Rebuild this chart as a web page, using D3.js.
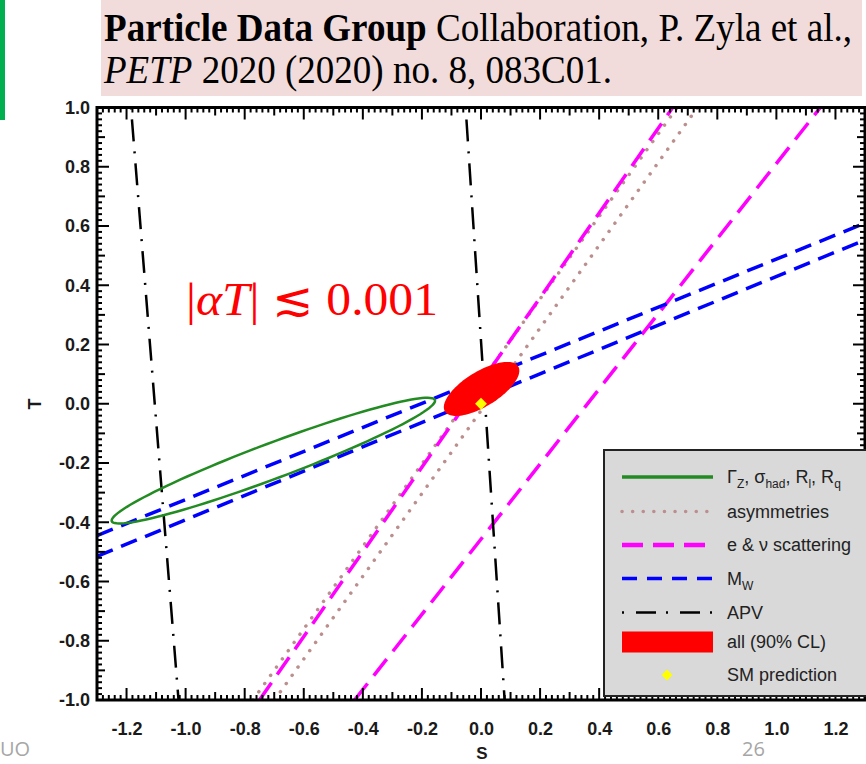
<!DOCTYPE html>
<html>
<head>
<meta charset="utf-8">
<script src="https://cdn.jsdelivr.net/npm/d3@7"></script>
<style>
  body { margin: 0; background: #fff; }
  svg { display: block; }
</style>
</head>
<body>
<svg id="chart" width="866" height="764"></svg>
<script>
// S-T oblique parameter constraints (PDG 2020 slide)

const xTicks = [-1.2, -1.0, -0.8, -0.6, -0.4, -0.2, 0.0, 0.2, 0.4, 0.6, 0.8, 1.0, 1.2];
const yTicks = [-1.0, -0.8, -0.6, -0.4, -0.2, 0.0, 0.2, 0.4, 0.6, 0.8, 1.0];

// each band edge is a straight line given by two [S, T] ends
const apvLines = [
    [[-1.185, 1.0], [-1.024, -1.0]],
    [[-0.052, 1.0], [0.080, -1.0]]
];
const scatteringLines = [
    [[-0.750, -1.0], [0.649, 1.0]],
    [[-0.428, -1.0], [1.149, 1.0]]
];
const asymmetryLines = [
    [[-0.772, -1.0], [0.664, 1.0]],
    [[-0.699, -1.0], [0.733, 1.0]]
];
const mwLines = [
    [[-1.3, -0.445], [1.3, 0.610]],
    [[-1.3, -0.515], [1.3, 0.553]]
];

// ellipses: [centre S, centre T, semi-major, semi-minor, tilt in degrees]
const zEllipse = [-0.703, -0.192, 0.584, 0.060, 20.5];
const allEllipse = [0.002, 0.050, 0.1455, 0.059, 31.5];
const smPoint = [0.0, 0.0];

// "_x" marks a subscript
const legendNames = [
    ["Γ", "_Z", ", σ", "_had", ", R", "_l", ", R", "_q"],
    ["asymmetries"],
    ["e & ν scattering"],
    ["M", "_W"],
    ["APV"],
    ["all (90% CL)"],
    ["SM prediction"]
];

const colors = {
    z: "#228b22",
    asym: "#bc8f8f",
    scat: "#ff00ff",
    mw: "#0000ff",
    apv: "#000",
    all: "#ff0000",
    sm: "#ffff00"
};
const dashes = {
    asym: "0.1,10",
    scat: "21,10",
    mw: "17,9",
    apv: "2,10,22,10"
};

const svg = d3.select("#chart");

const x = d3.scaleLinear().domain([-1.3, 1.3]).range([97, 865]);
const y = d3.scaleLinear().domain([-1.0, 1.0]).range([700, 107.5]);

// citation box
svg.append("rect").attr("x", 0).attr("y", 0).attr("width", 5).attr("height", 120).attr("fill", "#00b050");
svg.append("rect").attr("x", 101).attr("y", 0).attr("width", 761).attr("height", 96).attr("fill", "#f2dcdb");

// slide text is slightly condensed, so stretch it vertically
let cite1 = svg.append("text").attr("transform", "translate(104,41) scale(1,1.12)")
    .attr("font-family", "Liberation Serif").attr("font-size", 35).attr("fill", "#000")
    .attr("textLength", 748).attr("lengthAdjust", "spacingAndGlyphs");
cite1.append("tspan").attr("font-weight", "bold").text("Particle Data Group");
cite1.append("tspan").text(" Collaboration, P. Zyla et al.,");

let cite2 = svg.append("text").attr("transform", "translate(104,83) scale(1,1.12)")
    .attr("font-family", "Liberation Serif").attr("font-size", 35).attr("fill", "#000")
    .attr("textLength", 508).attr("lengthAdjust", "spacingAndGlyphs");
cite2.append("tspan").attr("font-style", "italic").text("PETP");
cite2.append("tspan").text(" 2020 (2020) no. 8, 083C01.");

// plot area
svg.append("clipPath").attr("id", "plotclip")
    .append("rect").attr("x", x(-1.3)).attr("y", y(1)).attr("width", x(1.3) - x(-1.3)).attr("height", y(-1) - y(1));

const plot = svg.append("g").attr("clip-path", "url(#plotclip)");

const line = d3.line().x(d => x(d[0])).y(d => y(d[1]));

function ellipsePoints(e) {
    const [cs, ct, a, b, deg] = e;
    const th = deg * Math.PI / 180;
    return d3.range(0, 361, 3).map(k => {
        const t = k * Math.PI / 180;
        const u = a * Math.cos(t), v = b * Math.sin(t);
        return [cs + u * Math.cos(th) - v * Math.sin(th), ct + u * Math.sin(th) + v * Math.cos(th)];
    });
}

function drawLines(lines, color, dash, width, cap) {
    lines.forEach(l => {
        plot.append("path")
            .attr("d", line(l))
            .attr("fill", "none")
            .attr("stroke", color)
            .attr("stroke-width", width)
            .attr("stroke-dasharray", dash)
            .attr("stroke-linecap", cap || "butt");
    });
}

drawLines(asymmetryLines, colors.asym, dashes.asym, 3.5, "round");
drawLines(scatteringLines, colors.scat, dashes.scat, 3.5);
drawLines(mwLines, colors.mw, dashes.mw, 3.5);
drawLines(apvLines, colors.apv, dashes.apv, 2.5);

plot.append("path")
    .attr("d", line(ellipsePoints(zEllipse)))
    .attr("fill", "none")
    .attr("stroke", colors.z)
    .attr("stroke-width", 2.5);

plot.append("path")
    .attr("d", line(ellipsePoints(allEllipse)))
    .attr("fill", colors.all)
    .attr("stroke", "none");

plot.append("path")
    .attr("d", d3.symbol().type(d3.symbolDiamond2).size(90)())
    .attr("transform", `translate(${x(smPoint[0])},${y(smPoint[1])})`)
    .attr("fill", colors.sm);

// ticks on all four sides, pointing inward
const xMinor = d3.range(-65, 66).map(i => i * 0.02);
const yMinor = d3.range(-50, 51).map(i => i * 0.02);
function tickLen(v) {
    const i = Math.round(v * 50);
    if (i % 10 === 0) return 12;
    if (i % 5 === 0) return 8;
    return 5;
}

const tickG = svg.append("g").attr("stroke", "#000").attr("stroke-width", 2);
xMinor.forEach(v => {
    tickG.append("line").attr("x1", x(v)).attr("x2", x(v)).attr("y1", y(-1)).attr("y2", y(-1) - tickLen(v));
    tickG.append("line").attr("x1", x(v)).attr("x2", x(v)).attr("y1", y(1)).attr("y2", y(1) + tickLen(v));
});
yMinor.forEach(v => {
    tickG.append("line").attr("y1", y(v)).attr("y2", y(v)).attr("x1", x(-1.3)).attr("x2", x(-1.3) + tickLen(v));
    tickG.append("line").attr("y1", y(v)).attr("y2", y(v)).attr("x1", x(1.3)).attr("x2", x(1.3) - tickLen(v));
});

svg.append("rect")
    .attr("x", x(-1.3)).attr("y", y(1))
    .attr("width", x(1.3) - x(-1.3)).attr("height", y(-1) - y(1))
    .attr("fill", "none").attr("stroke", "#000").attr("stroke-width", 3);

// tick labels
const fmt = d => d3.format(".1f")(d).replace("−", "-");

svg.append("g")
    .attr("transform", `translate(0,${y(-1)})`)
    .call(d3.axisBottom(x).tickValues(xTicks).tickSize(0).tickPadding(22).tickFormat(fmt))
    .call(g => g.select(".domain").remove())
    .selectAll("text")
    .attr("font-family", "Liberation Sans").attr("font-weight", "bold").attr("font-size", 18).attr("fill", "#1a1a1a");

svg.append("g")
    .attr("transform", `translate(${x(-1.3)},0)`)
    .call(d3.axisLeft(y).tickValues(yTicks).tickSize(0).tickPadding(7).tickFormat(fmt))
    .call(g => g.select(".domain").remove())
    .selectAll("text")
    .attr("font-family", "Liberation Sans").attr("font-weight", "bold").attr("font-size", 18).attr("fill", "#1a1a1a");

// axis titles
svg.append("text").attr("x", 482).attr("y", 759).attr("text-anchor", "middle")
    .attr("font-family", "Liberation Sans").attr("font-weight", "bold").attr("font-size", 17).attr("fill", "#1a1a1a")
    .text("S");
svg.append("text").attr("transform", "translate(41,404) rotate(-90)").attr("text-anchor", "middle")
    .attr("font-family", "Liberation Sans").attr("font-weight", "bold").attr("font-size", 18).attr("fill", "#1a1a1a")
    .text("T");

// annotation
let note = svg.append("text").attr("x", 186).attr("y", 315)
    .attr("font-family", "Liberation Serif").attr("font-size", 46).attr("fill", "#ff0000")
    .attr("textLength", 252).attr("lengthAdjust", "spacingAndGlyphs");
note.append("tspan").text("|");
note.append("tspan").attr("font-style", "italic").text("αT");
note.append("tspan").text("| ≲ 0.001");

// legend
const lg = svg.append("g");
lg.append("rect").attr("x", 604).attr("y", 450).attr("width", 270).attr("height", 246)
    .attr("fill", "#d9d9d9").attr("stroke", "#222").attr("stroke-width", 2);

const rowY = [477, 511.5, 545, 578.5, 612.5, 642, 675];
const sx0 = 622, sx1 = 713, tx = 727;

function legendLine(i, color, dash, width, cap) {
    lg.append("line").attr("x1", sx0).attr("x2", sx1).attr("y1", rowY[i]).attr("y2", rowY[i])
        .attr("stroke", color).attr("stroke-width", width)
        .attr("stroke-dasharray", dash).attr("stroke-linecap", cap || "butt");
}
legendLine(0, colors.z, null, 3.5);
legendLine(1, colors.asym, "0.1,10.5", 3.5, "round");
legendLine(2, colors.scat, dashes.scat, 4.5);
legendLine(3, colors.mw, "15,10", 3.5);
legendLine(4, colors.apv, "2,12,20,10", 2.5);
lg.append("rect").attr("x", sx0).attr("y", rowY[5] - 10.5).attr("width", sx1 - sx0).attr("height", 21).attr("fill", colors.all);
lg.append("path")
    .attr("d", d3.symbol().type(d3.symbolDiamond2).size(75)())
    .attr("transform", `translate(667,${rowY[6]})`)
    .attr("fill", colors.sm);

legendNames.forEach((parts, i) => {
    let t = lg.append("text").attr("x", tx).attr("y", rowY[i] + 6)
        .attr("font-family", "Liberation Sans").attr("font-size", 18).attr("fill", "#222");
    let shifted = false;
    parts.forEach(part => {
        if (part.startsWith("_")) {
            t.append("tspan").attr("font-size", 12).attr("dy", 5).text(part.slice(1));
            shifted = true;
        } else {
            t.append("tspan").attr("dy", shifted ? -5 : 0).text(part);
            shifted = false;
        }
    });
});

// slide footer
svg.append("text").attr("x", 0).attr("y", 756)
    .attr("font-family", "Open Sans").attr("font-size", 20).attr("fill", "#a6a6a6").text("UO");
svg.append("text").attr("x", 742).attr("y", 756)
    .attr("font-family", "Open Sans").attr("font-size", 20).attr("fill", "#a6a6a6").text("26");
</script>
</body>
</html>
